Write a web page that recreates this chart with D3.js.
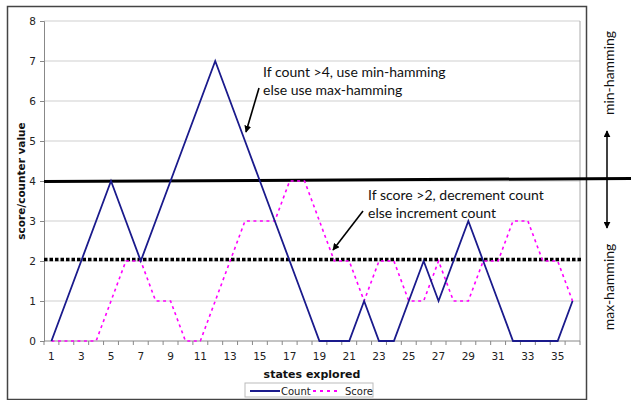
<!DOCTYPE html>
<html>
<head>
<meta charset="utf-8">
<script src="https://cdn.jsdelivr.net/npm/d3@7"></script>
<style>
  body { margin: 0; background: #fff; }
  text { font-family: "DejaVu Sans", Verdana, sans-serif; }
  .note { font-family: Lato, "Open Sans", sans-serif; font-size: 14px; fill: #111; }
</style>
</head>
<body>
<div id="chart-area"></div>
<script>
// data
let states = d3.range(1, 37);
let countValues = [0,1,2,3,4,3,2,3,4,5,6,7,6,5,4,3,2,1,0,0,0,1,0,0,1,2,1,2,3,2,1,0,0,0,0,1];
let scoreValues = [0,0,0,0,1,2,2,1,1,0,0,1,2,3,3,3,4,4,3,2,2,1,2,2,1,1,2,1,1,2,2,3,3,2,2,1];
let yTicks = [0,1,2,3,4,5,6,7,8];
let xTickLabels = states.filter(d => d % 2 == 1);
let seriesNames = ["Count", "Score"];
let minThreshold = 4, maxThreshold = 2;

let W = 631, H = 400;
let plot = {left: 44, right: 580, top: 21, bottom: 341};

let svg = d3.select("#chart-area")
  .append("svg")
    .attr("width", W)
    .attr("height", H);

// outer chart frame
svg.append("rect")
  .attr("x", 7.5).attr("y", 6.5)
  .attr("width", 579).attr("height", 393)
  .attr("fill", "none")
  .attr("stroke", "#444")
  .attr("stroke-width", 1.5);

// scales
let x = d3.scaleBand()
  .domain(states)
  .range([plot.left, plot.right]);

let y = d3.scaleLinear()
  .domain([0, 8])
  .range([plot.bottom, plot.top]);

let cx = d => x(d) + x.bandwidth() / 2;

// gridlines
svg.append("g")
  .selectAll("line")
  .data(yTicks.slice(1))
  .enter().append("line")
    .attr("x1", plot.left).attr("x2", plot.right)
    .attr("y1", d => y(d)).attr("y2", d => y(d))
    .attr("stroke", "#cfcfcf")
    .attr("stroke-width", 1);

// plot border (right side)
svg.append("line")
  .attr("x1", plot.right).attr("x2", plot.right)
  .attr("y1", plot.top).attr("y2", plot.bottom)
  .attr("stroke", "#aaa");

// y axis
let yAxis = svg.append("g")
  .attr("transform", "translate(" + plot.left + ",0)")
  .call(d3.axisLeft(y).tickValues(yTicks).tickSize(4).tickPadding(4));
yAxis.select(".domain").attr("stroke", "#888");
yAxis.selectAll(".tick line").attr("stroke", "#888");
yAxis.selectAll("text").attr("font-size", 10.5).attr("fill", "#222")
  .attr("font-family", "DejaVu Sans");

// x axis: ticks between categories, labels on odd states
let xAxisG = svg.append("g")
  .attr("transform", "translate(0," + plot.bottom + ")");
xAxisG.append("line")
  .attr("x1", plot.left).attr("x2", plot.right)
  .attr("stroke", "#888");
xAxisG.selectAll(".tk")
  .data(states.concat([37]))
  .enter().append("line")
    .attr("class", "tk")
    .attr("x1", d => d <= 36 ? x(d) : plot.right)
    .attr("x2", d => d <= 36 ? x(d) : plot.right)
    .attr("y1", 0).attr("y2", 4)
    .attr("stroke", "#888");
xAxisG.selectAll(".lbl")
  .data(xTickLabels)
  .enter().append("text")
    .attr("class", "lbl")
    .attr("x", d => cx(d))
    .attr("y", 19)
    .attr("text-anchor", "middle")
    .attr("font-size", 10.5)
    .attr("fill", "#222")
    .text(d => d);

// axis titles
svg.append("text")
  .attr("x", (plot.left + plot.right) / 2)
  .attr("y", 378)
  .attr("text-anchor", "middle")
  .attr("font-size", 11)
  .attr("font-weight", "bold")
  .attr("fill", "#111")
  .text("states explored");

svg.append("text")
  .attr("transform", "translate(25," + ((plot.top + plot.bottom) / 2) + ") rotate(-90)")
  .attr("text-anchor", "middle")
  .attr("font-size", 10.5)
  .attr("font-weight", "bold")
  .attr("fill", "#111")
  .text("score/counter value");

// threshold lines
svg.append("line")
  .attr("x1", plot.left).attr("x2", W)
  .attr("y1", y(minThreshold) + 0.5).attr("y2", y(minThreshold) - 2.5)
  .attr("stroke", "#000")
  .attr("stroke-width", 3);

svg.append("line")
  .attr("x1", plot.left).attr("x2", plot.right + 2)
  .attr("y1", y(maxThreshold) - 1.5).attr("y2", y(maxThreshold) - 1.5)
  .attr("stroke", "#000")
  .attr("stroke-width", 3.5)
  .attr("stroke-dasharray", "3.5,2");

// series lines
let line = d3.line()
  .x((d, i) => cx(states[i]))
  .y(d => y(d));

svg.append("path")
  .datum(scoreValues)
  .attr("d", line)
  .attr("fill", "none")
  .attr("stroke", "#ff00ff")
  .attr("stroke-width", 1.6)
  .attr("stroke-dasharray", "3,3.5");

svg.append("path")
  .datum(countValues)
  .attr("d", line)
  .attr("fill", "none")
  .attr("stroke", "#1a1a8c")
  .attr("stroke-width", 1.8);

// arrow marker
svg.append("defs").append("marker")
  .attr("id", "arrow")
  .attr("viewBox", "0 0 10 10")
  .attr("refX", 9).attr("refY", 5)
  .attr("markerWidth", 7).attr("markerHeight", 7)
  .attr("markerUnits", "userSpaceOnUse")
  .attr("orient", "auto")
  .append("path")
    .attr("d", "M0,0 L10,5 L0,10 Z")
    .attr("fill", "#000");

// annotations
let notes = svg.append("g").attr("class", "notes");
notes.append("text").attr("class", "note").attr("x", 263).attr("y", 77).text("If count >4, use min-hamming");
notes.append("text").attr("class", "note").attr("x", 263).attr("y", 95).text("else use max-hamming");
notes.append("line")
  .attr("x1", 259).attr("y1", 88).attr("x2", 246).attr("y2", 132)
  .attr("stroke", "#000").attr("stroke-width", 1.6)
  .attr("marker-end", "url(#arrow)");

notes.append("text").attr("class", "note").attr("x", 368).attr("y", 200).text("If score >2, decrement count");
notes.append("text").attr("class", "note").attr("x", 368).attr("y", 218).text("else increment count");
notes.append("line")
  .attr("x1", 363).attr("y1", 211).attr("x2", 333).attr("y2", 250)
  .attr("stroke", "#000").attr("stroke-width", 1.6)
  .attr("marker-end", "url(#arrow)");

// right side arrow + labels
notes.append("line")
  .attr("x1", 607).attr("y1", 179).attr("x2", 607).attr("y2", 131)
  .attr("stroke", "#000").attr("stroke-width", 1.5)
  .attr("marker-end", "url(#arrow)");
notes.append("line")
  .attr("x1", 607).attr("y1", 179).attr("x2", 607).attr("y2", 228)
  .attr("stroke", "#000").attr("stroke-width", 1.5)
  .attr("marker-end", "url(#arrow)");
notes.append("text").attr("class", "note")
  .attr("transform", "translate(614,73) rotate(-90)")
  .attr("text-anchor", "middle")
  .text("min-hamming");
notes.append("text").attr("class", "note")
  .attr("transform", "translate(614,287) rotate(-90)")
  .attr("text-anchor", "middle")
  .text("max-hamming");

// legend
let legend = svg.append("g").attr("transform", "translate(245,383)");
legend.append("rect")
  .attr("width", 128).attr("height", 14)
  .attr("fill", "#fff")
  .attr("stroke", "#bbb");
legend.append("line")
  .attr("x1", 5).attr("x2", 35).attr("y1", 8).attr("y2", 8)
  .attr("stroke", "#1a1a8c").attr("stroke-width", 2);
legend.append("text")
  .attr("x", 36).attr("y", 11.5)
  .attr("font-size", 10).attr("fill", "#222")
  .text(seriesNames[0]);
legend.append("line")
  .attr("x1", 68).attr("x2", 94).attr("y1", 8).attr("y2", 8)
  .attr("stroke", "#ff00ff").attr("stroke-width", 2)
  .attr("stroke-dasharray", "3,4");
legend.append("text")
  .attr("x", 100).attr("y", 11.5)
  .attr("font-size", 10).attr("fill", "#222")
  .text(seriesNames[1]);
</script>
</body>
</html>
